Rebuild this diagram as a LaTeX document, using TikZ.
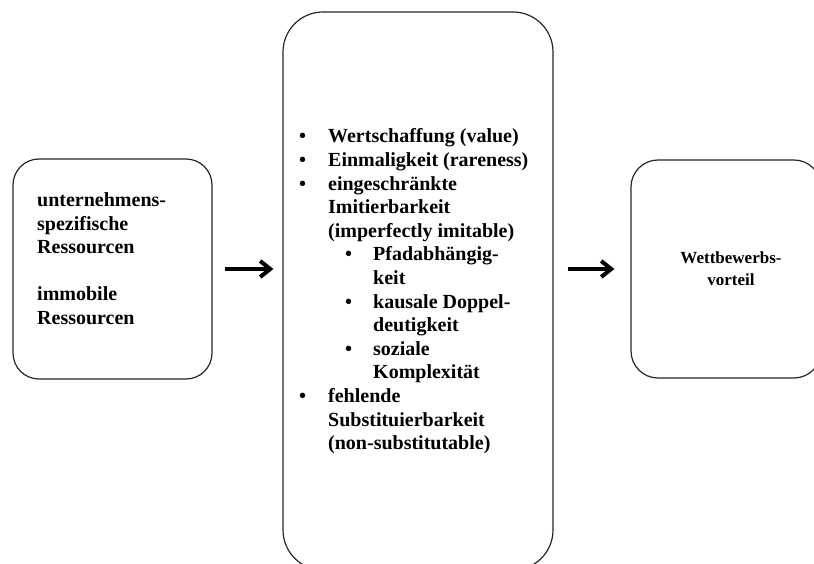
\documentclass[tikz,border=0pt]{standalone}
\usepackage{fontspec}
\setmainfont{Liberation Serif}
\usetikzlibrary{arrows.meta}

\begin{document}
\begin{tikzpicture}[x=1pt,y=-1pt,
  stagebox/.style={draw=black!85, line width=1.2pt, rounded corners=#1,
    inner sep=0pt, fill=none},
  flowarrow/.style={line width=4pt, black,
    -{Straight Barb[length=10pt,width=16pt]}},
  bigtext/.style={inner sep=0pt, font=\bfseries\fontsize{20}{23.6}\selectfont},
  smalltext/.style={inner sep=0pt, font=\bfseries\fontsize{17}{21.5}\selectfont}]

  \useasboundingbox (0,0) rectangle (814,564);
  \clip (0,0) rectangle (814,564);

  % three stages
  \node[stagebox=26pt, minimum width=199pt, minimum height=220pt] (res) at (112.5,269) {};
  \node[stagebox=40pt, minimum width=270pt, minimum height=558pt] (crit) at (418,291) {};
  \node[stagebox=27pt, minimum width=190pt, minimum height=218pt] (adv) at (726,269) {};

  % left stage text
  \node[bigtext, anchor=base west] (restext) at (37,207) {%
    \fontsize{20}{23.5}\selectfont
    \begin{tabular}[t]{@{}l@{}}
      unternehmens-\\
      spezifische\\
      Ressourcen\\
      \\
      immobile\\
      Ressourcen
    \end{tabular}};

  % criteria list
  \node[bigtext, anchor=base west] (crittext) at (299,143) {%
    \fontsize{20}{23.6}\selectfont
    \begin{tabular}[t]{@{}p{29pt}@{}p{45pt}@{}l@{}}
      \textbullet & \multicolumn{2}{@{}l@{}}{Wertschaffung (value)}\\
      \textbullet & \multicolumn{2}{@{}l@{}}{Einmaligkeit (rareness)}\\
      \textbullet & \multicolumn{2}{@{}l@{}}{eingeschränkte}\\
                  & \multicolumn{2}{@{}l@{}}{Imitierbarkeit}\\
                  & \multicolumn{2}{@{}l@{}}{(imperfectly imitable)}\\
                  & \hspace*{17pt}\textbullet & Pfadabhängig-\\
                  & & keit\\
                  & \hspace*{17pt}\textbullet & kausale Doppel-\\
                  & & deutigkeit\\
                  & \hspace*{17pt}\textbullet & soziale\\
                  & & Komplexität\\
      \textbullet & \multicolumn{2}{@{}l@{}}{fehlende}\\
                  & \multicolumn{2}{@{}l@{}}{Substituierbarkeit}\\
                  & \multicolumn{2}{@{}l@{}}{(non-substitutable)}
    \end{tabular}};

  % right stage text
  \node[smalltext, anchor=base] (advtext) at (731,264) {%
    \fontsize{17}{21.5}\selectfont
    \begin{tabular}[t]{@{}c@{}}
      Wettbewerbs-\\
      vorteil
    \end{tabular}};

  % connectors
  \draw[flowarrow, shorten <=12.5pt, shorten >=9pt]
    (res.east) -- (res.east -| crit.west);
  \draw[flowarrow, shorten <=14pt, shorten >=16pt]
    (crit.east |- adv.west) -- (adv.west);
\end{tikzpicture}
\end{document}
